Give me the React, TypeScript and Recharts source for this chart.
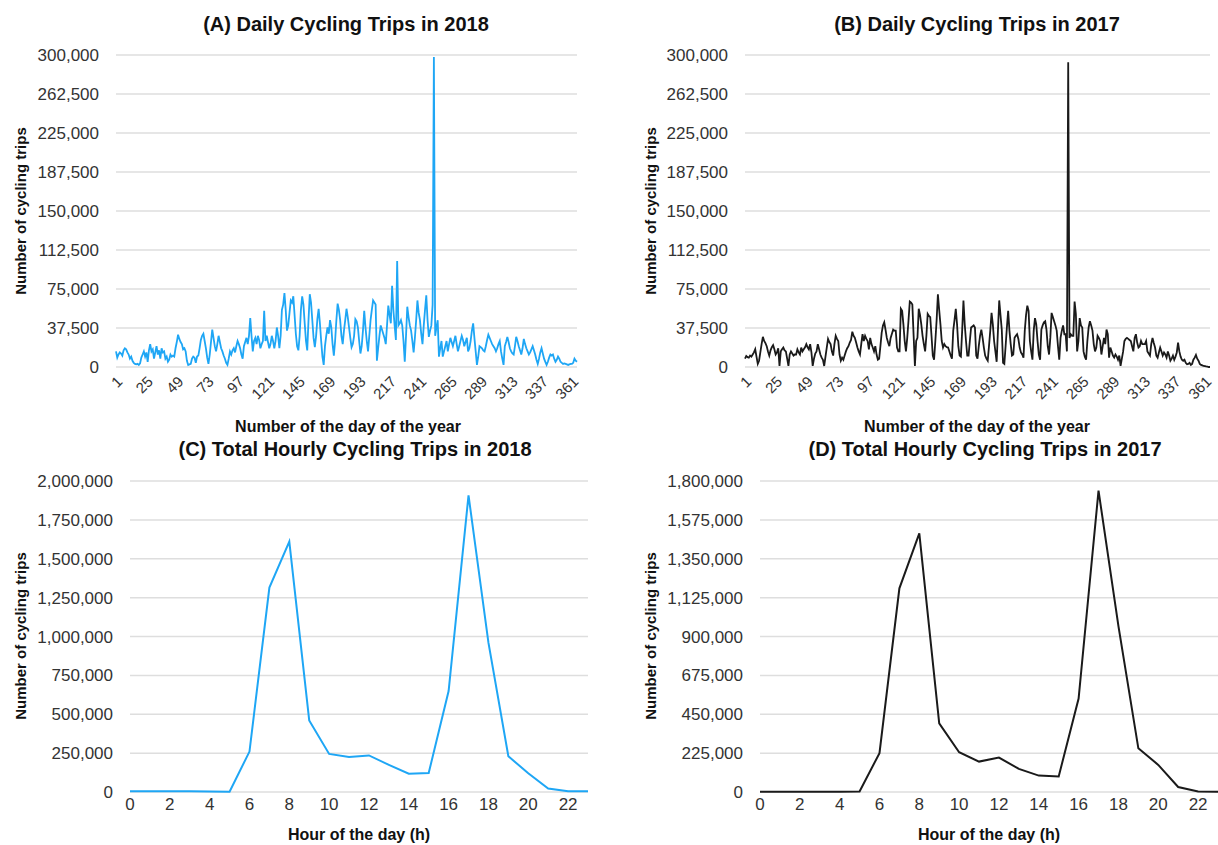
import { LineChart, Line, XAxis, YAxis, CartesianGrid } from "recharts";

// daily totals, day 1..365
const trips2018Daily = [
  15000, 9000, 12000, 14000, 13000, 11000, 16000, 18000, 17000, 14000,
  12000, 8000, 10000, 6000, 4000, 3000, 2500, 3000, 2000, 3500,
  9000, 12000, 15000, 10000, 14000, 5000, 16000, 22000, 15000, 17000,
  8000, 14000, 20000, 12000, 16000, 8000, 18000, 14000, 15000, 8000,
  10000, 5000, 7000, 12000, 10000, 11000, 10000, 18000, 24000, 31000,
  27000, 24000, 22000, 17000, 18000, 15000, 6000, 2000, 2500, 3000,
  8000, 10000, 9000, 4000, 10000, 11000, 18000, 26000, 30000, 32000,
  25000, 18000, 9000, 3000, 12000, 24000, 36000, 28000, 20000, 15000,
  22000, 30000, 24000, 18000, 15000, 11000, 8000, 4000, 2000, 8000,
  15000, 12000, 16000, 18000, 14000, 20000, 25000, 22000, 18000, 12000,
  8000, 20000, 24000, 28000, 22000, 30000, 47000, 30000, 15000, 25000,
  28000, 22000, 30000, 26000, 18000, 22000, 25000, 54000, 25000, 30000,
  24000, 18000, 22000, 30000, 25000, 18000, 25000, 38000, 30000, 18000,
  30000, 55000, 60000, 71000, 55000, 35000, 40000, 52000, 64000, 62000,
  68000, 50000, 32000, 20000, 16000, 30000, 55000, 68000, 60000, 42000,
  25000, 16000, 45000, 70000, 62000, 45000, 28000, 19000, 30000, 46000,
  56000, 42000, 25000, 10000, 2000, 20000, 30000, 38000, 32000, 45000,
  38000, 22000, 11000, 25000, 45000, 61000, 55000, 45000, 30000, 22000,
  35000, 45000, 56000, 48000, 38000, 28000, 19000, 22000, 30000, 46000,
  44000, 38000, 25000, 13000, 20000, 35000, 54000, 38000, 25000, 15000,
  30000, 45000, 55000, 64000, 62000, 60000, 6000, 18000, 30000, 40000,
  36000, 32000, 28000, 22000, 40000, 59000, 50000, 42000, 78000, 55000,
  40000, 26000, 102000, 40000, 42000, 45000, 40000, 25000, 5000, 30000,
  58000, 48000, 40000, 35000, 25000, 14000, 28000, 45000, 64000, 52000,
  45000, 32000, 22000, 40000, 55000, 69000, 45000, 29000, 35000, 40000,
  60000, 298000, 30000, 38000, 45000, 10000, 18000, 25000, 10000, 15000,
  20000, 25000, 15000, 22000, 28000, 24000, 20000, 25000, 30000, 22000,
  15000, 20000, 25000, 30000, 26000, 20000, 24000, 28000, 15000, 18000,
  25000, 35000, 42000, 28000, 15000, 2000, 10000, 20000, 19000, 18000,
  16000, 15000, 20000, 26000, 31000, 28000, 25000, 22000, 20000, 18000,
  15000, 18000, 22000, 25000, 15000, 8000, 2000, 20000, 24000, 29000,
  24000, 18000, 15000, 13000, 12000, 20000, 29000, 25000, 20000, 16000,
  12000, 18000, 27000, 22000, 18000, 15000, 12000, 14000, 17000, 20000,
  16000, 12000, 7000, 3000, 8000, 14000, 18000, 13000, 8000, 5000,
  2000, 5000, 9000, 12000, 11000, 12000, 8000, 5000, 7000, 10000,
  8000, 5000, 4000, 3000, 3500, 3000, 2500, 2000, 2500, 3000,
  3000, 4000, 8000, 6000, 5000,
];

const trips2017Daily = [
  8000, 10600, 9500, 9000, 11000, 10000, 12000, 14000, 17000, 10000,
  3000, 6000, 14000, 22000, 29000, 25000, 23000, 20000, 15000, 11000,
  16000, 19000, 21000, 17000, 12000, 14000, 18000, 1000, 15000, 17000,
  18700, 16000, 15000, 8000, 1000, 12000, 15000, 13000, 11000, 12000,
  12000, 17000, 14000, 12000, 18700, 15000, 17000, 19000, 22000, 19000,
  17000, 22000, 14000, 1000, 8000, 13000, 15000, 22000, 17000, 12000,
  9000, 7000, 1000, 10000, 18700, 27000, 24000, 22000, 15000, 11000,
  22000, 30000, 27000, 25000, 12000, 6000, 9000, 7000, 11000, 15000,
  18000, 20000, 23500, 26000, 34000, 30000, 28000, 23500, 18700, 15000,
  12000, 22000, 31600, 25000, 30000, 27000, 25000, 17000, 28000, 22000,
  18700, 15000, 20000, 12000, 7000, 8000, 20000, 33000, 40000, 43000,
  36000, 28000, 23500, 20000, 28000, 32000, 36000, 35000, 35000, 18700,
  15000, 15000, 56000, 54000, 41000, 25000, 15000, 28000, 45000, 63000,
  62000, 60000, 30000, 1000, 25000, 28000, 56000, 50000, 41000, 30000,
  22000, 15000, 30000, 51000, 49000, 48000, 30000, 11000, 7000, 25000,
  45000, 70000, 55000, 41000, 25000, 18700, 22000, 20000, 19000, 18700,
  15000, 11000, 8000, 35000, 45000, 56000, 41000, 20000, 11000, 10000,
  35000, 64000, 41000, 25000, 11000, 11000, 25000, 38000, 39000, 40000,
  38000, 11000, 8000, 20000, 30000, 36000, 28000, 18700, 11000, 8000,
  6000, 20000, 35000, 52000, 41000, 25000, 15000, 5000, 35000, 64000,
  50000, 36000, 4000, 3000, 20000, 38000, 54000, 35000, 22000, 11000,
  12000, 28000, 30000, 31500, 27000, 18700, 14000, 12000, 9000, 35000,
  50000, 59000, 54000, 25000, 15000, 7000, 35000, 47000, 41000, 25000,
  12000, 7000, 36000, 40000, 43000, 44000, 36000, 20000, 12000, 28000,
  52000, 48000, 44000, 40000, 35000, 20000, 7000, 28000, 35000, 40000,
  31500, 31500, 15000, 293000, 28000, 31500, 30000, 30000, 63000, 51000,
  15000, 25000, 47000, 40000, 38000, 15000, 10000, 7000, 25000, 38000,
  44000, 40000, 35000, 22000, 15000, 18700, 30000, 28000, 25000, 12000,
  20000, 28000, 22000, 36000, 31500, 9000, 18700, 15000, 11000, 9000,
  12000, 10000, 7000, 11000, 1000, 8000, 15000, 25000, 27000, 28000,
  27000, 26000, 25000, 20000, 15000, 28000, 31500, 23500, 18700, 20000,
  25000, 22000, 22000, 22000, 25000, 15000, 13000, 11000, 22000, 28000,
  23000, 18700, 11000, 9000, 14000, 18700, 15000, 11000, 14000, 12000,
  9000, 15000, 11000, 6000, 8000, 11000, 7000, 10000, 14000, 23500,
  15000, 10000, 7000, 6000, 7000, 4000, 2600, 3000, 4000, 2000,
  3000, 7000, 9000, 11600, 8000, 6000, 3000, 2000, 1500, 1000,
  800, 500, 300, 0, 0,
];

// hourly totals, hour 0..23
const trips2018Hourly = [
  5000, 5000, 5000, 5000, 3000, 2000, 260000, 1315000, 1610000, 460000, 245000, 225000,
  235000, 175000, 118000, 122000, 649000, 1908000, 960000, 230000, 120000, 22000, 5000, 5000,
];
const trips2017Hourly = [
  2000, 2000, 2000, 2000, 2000, 3000, 225000, 1179000, 1497000, 397000, 230000, 176000,
  199000, 134000, 95000, 90000, 541000, 1744000, 960000, 253000, 157000, 29000, 3000, 2000,
];

const dayTicks = [1, 25, 49, 73, 97, 121, 145, 169, 193, 217, 241, 265, 289, 313, 337, 361];
const hourTicks = [0, 2, 4, 6, 8, 10, 12, 14, 16, 18, 20, 22];
const dailyYTicks = [0, 37500, 75000, 112500, 150000, 187500, 225000, 262500, 300000];
const hourly2018YTicks = [0, 250000, 500000, 750000, 1000000, 1250000, 1500000, 1750000, 2000000];
const hourly2017YTicks = [0, 225000, 450000, 675000, 900000, 1125000, 1350000, 1575000, 1800000];

const FONT = '"Liberation Sans", Arial, Helvetica, sans-serif';
const BLUE = "#1ea6f5";
const DARK = "#1a1a1a";
const GRID = "#dedede";
const TICK = { fontSize: 17, fill: "#333", fontFamily: FONT };

const fmt = (v: number) => v.toLocaleString("en-US");

const toDays = (vals: number[]) => vals.map((v, i) => ({ day: i + 1, trips: v }));
const toHours = (vals: number[]) => vals.map((v, i) => ({ hour: i, trips: v }));

function Text({ x, y, size, children, rotate }: { x: number; y: number; size: number; children: string; rotate?: boolean }) {
  return (
    <div
      style={{
        position: "absolute",
        left: x,
        top: y,
        transform: `translate(-50%, -50%)${rotate ? " rotate(-90deg)" : ""}`,
        whiteSpace: "nowrap",
        fontFamily: FONT,
        fontWeight: 700,
        fontSize: size,
        color: "#111",
      }}
    >
      {children}
    </div>
  );
}

function DailyChart({ left, values, color, yWidth, right }: { left: number; values: number[]; color: string; yWidth: number; right: number }) {
  return (
    <div style={{ position: "absolute", left, top: 0 }}>
      <LineChart width={588} height={430} data={toDays(values)} margin={{ top: 55, right, left: 0, bottom: 0 }}>
        <CartesianGrid vertical={false} stroke={GRID} strokeWidth={1.5} />
        <XAxis
          dataKey="day"
          type="number"
          domain={[1, 365]}
          ticks={dayTicks}
          interval={0}
          axisLine={false}
          tickLine={false}
          height={63}
          tickMargin={2}
          angle={-45}
          textAnchor="end"
          tick={{ ...TICK, fontSize: 15 }}
        />
        <YAxis
          domain={[0, 300000]}
          ticks={dailyYTicks}
          interval={0}
          width={yWidth}
          axisLine={false}
          tickLine={false}
          tickMargin={11}
          tickFormatter={fmt}
          tick={TICK}
        />
        <Line dataKey="trips" stroke={color} strokeWidth={1.8} dot={false} isAnimationActive={false} />
      </LineChart>
    </div>
  );
}

function HourlyChart({ left, values, color, max, ticks, right }: { left: number; values: number[]; color: string; max: number; ticks: number[]; right: number }) {
  return (
    <div style={{ position: "absolute", left, top: 430 }}>
      <LineChart width={588} height={415} data={toHours(values)} margin={{ top: 51, right, left: 0, bottom: 0 }}>
        <CartesianGrid vertical={false} stroke={GRID} strokeWidth={1.5} />
        <XAxis
          dataKey="hour"
          type="number"
          domain={[0, 23]}
          ticks={hourTicks}
          interval={0}
          axisLine={false}
          tickLine={false}
          height={53}
          tickMargin={0}
          tick={TICK}
        />
        <YAxis
          domain={[0, max]}
          ticks={ticks}
          interval={0}
          width={130}
          axisLine={false}
          tickLine={false}
          tickMargin={11}
          tickFormatter={fmt}
          tick={TICK}
        />
        <Line dataKey="trips" stroke={color} strokeWidth={2} dot={false} isAnimationActive={false} />
      </LineChart>
    </div>
  );
}

export default function App() {
  return (
    <div style={{ position: "absolute", left: 0, top: 0, width: 1218, height: 845, background: "#fff", overflow: "hidden" }}>
      <DailyChart left={0} values={trips2018Daily} color={BLUE} yWidth={116} right={11} />
      <DailyChart left={630} values={trips2017Daily} color={DARK} yWidth={115} right={8} />
      <HourlyChart left={0} values={trips2018Hourly} color={BLUE} max={2000000} ticks={hourly2018YTicks} right={0} />
      <HourlyChart left={630} values={trips2017Hourly} color={DARK} max={1800000} ticks={hourly2017YTicks} right={0} />

      <Text x={346} y={24} size={20}>(A) Daily Cycling Trips in 2018</Text>
      <Text x={977} y={24} size={20}>(B) Daily Cycling Trips in 2017</Text>
      <Text x={355} y={449} size={20}>(C) Total Hourly Cycling Trips in 2018</Text>
      <Text x={985} y={449} size={20}>(D) Total Hourly Cycling Trips in 2017</Text>

      <Text x={348} y={427} size={16}>Number of the day of the year</Text>
      <Text x={977} y={427} size={16}>Number of the day of the year</Text>
      <Text x={359} y={835} size={16}>Hour of the day (h)</Text>
      <Text x={989} y={835} size={16}>Hour of the day (h)</Text>

      <Text x={20} y={211} size={15} rotate>Number of cycling trips</Text>
      <Text x={650} y={211} size={15} rotate>Number of cycling trips</Text>
      <Text x={20} y={636} size={15} rotate>Number of cycling trips</Text>
      <Text x={650} y={636} size={15} rotate>Number of cycling trips</Text>
    </div>
  );
}
